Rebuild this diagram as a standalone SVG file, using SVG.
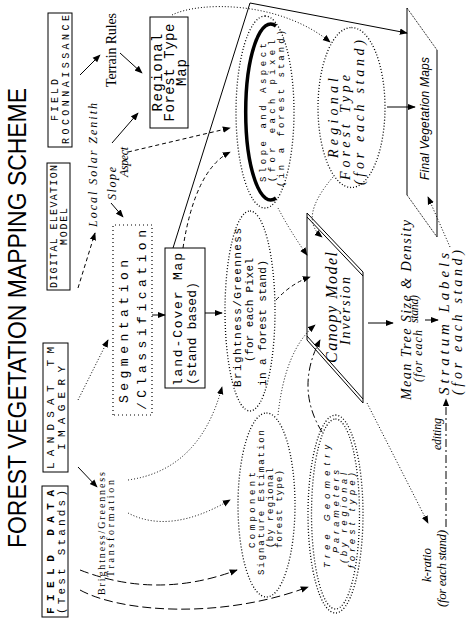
<svg xmlns="http://www.w3.org/2000/svg" width="471" height="623" viewBox="0 0 471 623">
<defs>
<style>
text{fill:#000}
.mono{font-family:"Liberation Mono","DejaVu Sans Mono",monospace}
.serif{font-family:"Liberation Serif",serif}
.it{font-family:"Liberation Serif",serif;font-style:italic}
.sit{font-family:"Liberation Sans",sans-serif;font-style:italic}
.box{fill:none;stroke:#000;stroke-width:1}
.dbox{fill:none;stroke:#000;stroke-width:1.2;stroke-dasharray:1 3}
.ell{fill:none;stroke:#000;stroke-width:1.3;stroke-dasharray:1 2}
.c{fill:none;stroke:#000;stroke-width:1}
.dot{stroke-dasharray:1 2}
.dash{stroke-dasharray:4 3}
.ldash{stroke-dasharray:9 4}
.dd{stroke-dasharray:8 3 2 3}
.arr{marker-end:url(#ah)}
</style>
<marker id="ah" viewBox="0 0 10 10" refX="9" refY="5" markerWidth="8" markerHeight="8" markerUnits="userSpaceOnUse" orient="auto"><path d="M0,1 L10,5 L0,9 z" fill="#000"/></marker>
</defs>
<rect width="471" height="623" fill="#fff"/>
<g transform="translate(0,623) rotate(-90)">
<text id="title" x="75" y="26" font-family="Liberation Sans, sans-serif" font-size="26" textLength="460" lengthAdjust="spacingAndGlyphs">FOREST VEGETATION MAPPING SCHEME</text>

<g id="connectors">
<path class="c arr" d="M548,80 L568,100"/>
<path class="c arr" d="M570,120 L550,142"/>
<path class="c arr" d="M480,112 L510,138"/>
<path class="c dash arr" d="M471,128 L495,230"/>
<path class="c dash arr" d="M335,78 L390,95"/>
<path class="c arr" d="M420,111 L406,123"/>
<path class="c dot arr" d="M223,78 L283,108"/>
<path class="c arr" d="M156,78 L136,97"/>
<path class="c dot arr" d="M143,128 Q153,200 236,222"/>
<path class="c dot arr" d="M110,128 Q88,170 123,230"/>
<path class="c ldash arr" d="M53,80 Q23,157 53,237"/>
<path class="c ldash arr" d="M33,80 C11,120 3,220 36,308"/>
<path class="c arr" d="M308,152 L308,165"/>
<path class="c arr" d="M310,205 L310,222"/>
<path class="c dash arr" d="M375,183 Q453,195 471,230"/>
<path class="c" d="M375,173 L620,250"/>
<path class="c arr" stroke-width="2" d="M620,250 L590,407"/>
<path class="c dot arr" d="M608,172 C622,200 622,280 581,330"/>
<path class="c arr" d="M516,387 L516,415"/>
<path class="c dot arr" d="M376,450 L426,428"/>
<path class="c dot arr" d="M446,333 Q405,298 386,322"/>
<path class="c dot arr" d="M415,278 Q392,290 368,307"/>
<path class="c dash arr" d="M323,276 Q340,292 346,310"/>
<path class="c dot arr" d="M208,278 Q273,285 298,315"/>
<path class="c dd arr" d="M191,322 Q235,295 283,320"/>
<path class="c arr" d="M300,368 L300,393"/>
<path class="c arr" d="M303,425 L303,438"/>
<path class="c dot arr" d="M220,367 L100,428"/>
<path class="c dd arr" d="M96,446 L224,446"/>
</g>

<g id="field-data">
<rect class="box" x="6" y="42" width="131" height="26"/>
<text class="mono" x="9" y="54" font-size="11" font-weight="bold" textLength="124">FIELD DATA</text>
<text class="mono" x="9" y="65" font-size="11" textLength="124">(Test Stands)</text>
</g>
<g id="landsat">
<rect class="box" x="151" y="43" width="129" height="25"/>
<text class="mono" x="154" y="54" font-size="11" textLength="122">LANDSAT TM</text>
<text class="mono" x="173" y="65" font-size="11" textLength="84">IMAGERY</text>
</g>
<g id="dem">
<rect class="box" x="333" y="47" width="127" height="23"/>
<text class="mono" x="335" y="57" font-size="10" textLength="123">DIGITAL ELEVATION</text>
<text class="mono" x="378" y="67" font-size="10" textLength="37">MODEL</text>
</g>
<g id="field-recon">
<rect class="box" x="476" y="48" width="134" height="24"/>
<text class="mono" x="502" y="58" font-size="10" textLength="42">FIELD</text>
<text class="mono" x="479" y="69" font-size="10" textLength="129">ROCONNAISSANCE</text>
</g>
<g id="terrain-rules">
<text class="serif" x="536" y="116" font-size="14" textLength="74">Terrain Rules</text>
</g>
<g id="solar">
<text class="it" x="396" y="97" font-size="12" textLength="124">Local Solar Zenith</text>
<text class="it" x="423" y="116" font-size="12" textLength="33">Slope</text>
<text class="it" x="446" y="128" font-size="12" textLength="30">Aspect</text>
</g>
<g id="regional-map">
<rect class="box" x="495" y="150" width="111" height="38"/>
<text class="mono" x="550.5" y="162" font-size="14" text-anchor="middle" textLength="78">Regional</text>
<text class="mono" x="550.5" y="174" font-size="14" text-anchor="middle" textLength="98">Forest Type</text>
<text class="mono" x="550.5" y="186" font-size="14" text-anchor="middle" textLength="27">Map</text>
</g>
<g id="transformation">
<text class="serif" x="28" y="105" font-size="10" textLength="123">Brightness/Greenness</text>
<text class="serif" x="46" y="114" font-size="10" textLength="97">Transformation</text>
</g>
<g id="segmentation">
<rect class="dbox" x="208" y="113" width="190" height="39"/>
<text class="mono" x="220" y="128" font-size="13" textLength="143">Segmentation</text>
<text class="mono" x="213" y="146" font-size="13" textLength="180">/Classification</text>
</g>
<g id="land-cover">
<rect class="box" x="235" y="165" width="140" height="40"/>
<text class="mono" x="237" y="182" font-size="13" textLength="133">land-Cover Map</text>
<text class="mono" x="238" y="196" font-size="13" textLength="103">(stand based)</text>
</g>
<g id="brightness">
<ellipse class="ell" cx="312" cy="250" rx="100" ry="25"/>
<text class="mono" x="236" y="241" font-size="11" textLength="159">Brightness/Greenness</text>
<text class="mono" x="261" y="253" font-size="11" textLength="104">(for each Pixel</text>
<text class="mono" x="237" y="266" font-size="11" textLength="126">in a forest stand)</text>
</g>
<g id="slope">
<ellipse class="ell" cx="511" cy="265" rx="96" ry="29"/>
<path d="M425,276 A88,25 0 1,1 597,276" fill="none" stroke="#000" stroke-width="3.5"/>
<text class="mono" x="441" y="266" font-size="9" textLength="139">Slope and Aspect</text>
<text class="mono" x="441" y="275" font-size="9" textLength="142">(for each pixel</text>
<text class="mono" x="436" y="284" font-size="9" textLength="157">(in a forest stand)</text>
</g>
<g id="component">
<ellipse class="ell" cx="118" cy="266.5" rx="92" ry="28.5"/>
<text class="mono" x="75" y="255" font-size="9" textLength="76">Component</text>
<text class="mono" x="48" y="264" font-size="9" textLength="145">Signature Estimation</text>
<text class="mono" x="75" y="273" font-size="9" textLength="80">(by regional</text>
<text class="mono" x="75" y="282" font-size="9" textLength="78">forest type)</text>
</g>
<g id="tree-geometry">
<ellipse class="ell" cx="109" cy="335.5" rx="99" ry="27.5"/>
<ellipse class="ell" cx="109" cy="335.5" rx="95" ry="24"/>
<text class="sit" x="55" y="330" font-size="9" textLength="123">Tree Geometry</text>
<text class="sit" x="70" y="339" font-size="9" textLength="83">Parameters</text>
<text class="sit" x="60" y="347" font-size="9" textLength="90">(by regional</text>
<text class="sit" x="55" y="355" font-size="9" textLength="95">forest type)</text>
</g>
<g id="regional-type">
<ellipse class="ell" cx="515.5" cy="351.5" rx="80" ry="33.5"/>
<text class="it" x="465" y="338" font-size="14" textLength="80">Regional</text>
<text class="it" x="443" y="350" font-size="14" textLength="105">Forest Type</text>
<text class="it" x="438" y="364" font-size="14" textLength="145">(for each stand)</text>
</g>
<g id="final-maps">
<path class="c" d="M615,407 L428,407 M573,437 L386,437"/>
<path class="c" stroke-dasharray="1 1" d="M615,407 L573,437 M428,407 L386,437"/>
<text class="sit" x="443" y="429" font-size="12" textLength="123">Final Vegetation Maps</text>
</g>
<g id="canopy">
<path class="c" d="M410,307 L283,307 M351,363 L220,363 M410,307 L351,363 M283,307 L220,363"/>
<path class="c" d="M406,307 L347,363 M287,307 L224,363"/>
<text class="it" x="260" y="337" font-size="16" textLength="111">Canopy Model</text>
<text class="it" x="278" y="350" font-size="14" textLength="68">Inversion</text>
</g>
<g id="mean-tree">
<text class="it" x="223" y="411" font-size="14" textLength="180">Mean Tree Size &amp; Density</text>
<text class="it" x="241" y="422" font-size="12" textLength="52">(for each</text>
<text class="it" x="300" y="418" font-size="12" textLength="28">stand)</text>
</g>
<g id="stratum">
<text class="it" x="228" y="449" font-size="15" textLength="142">Stratum Labels</text>
<text class="it" x="228" y="462" font-size="14" textLength="145">(for each stand)</text>
</g>
<g id="k-ratio">
<text class="it" x="41" y="431" font-size="13" textLength="34">k-ratio</text>
<text class="it" x="16" y="446" font-size="13" textLength="77">(for each stand)</text>
<text class="it" x="173" y="441" font-size="12" textLength="32">editing</text>
</g>
</g>
</svg>
